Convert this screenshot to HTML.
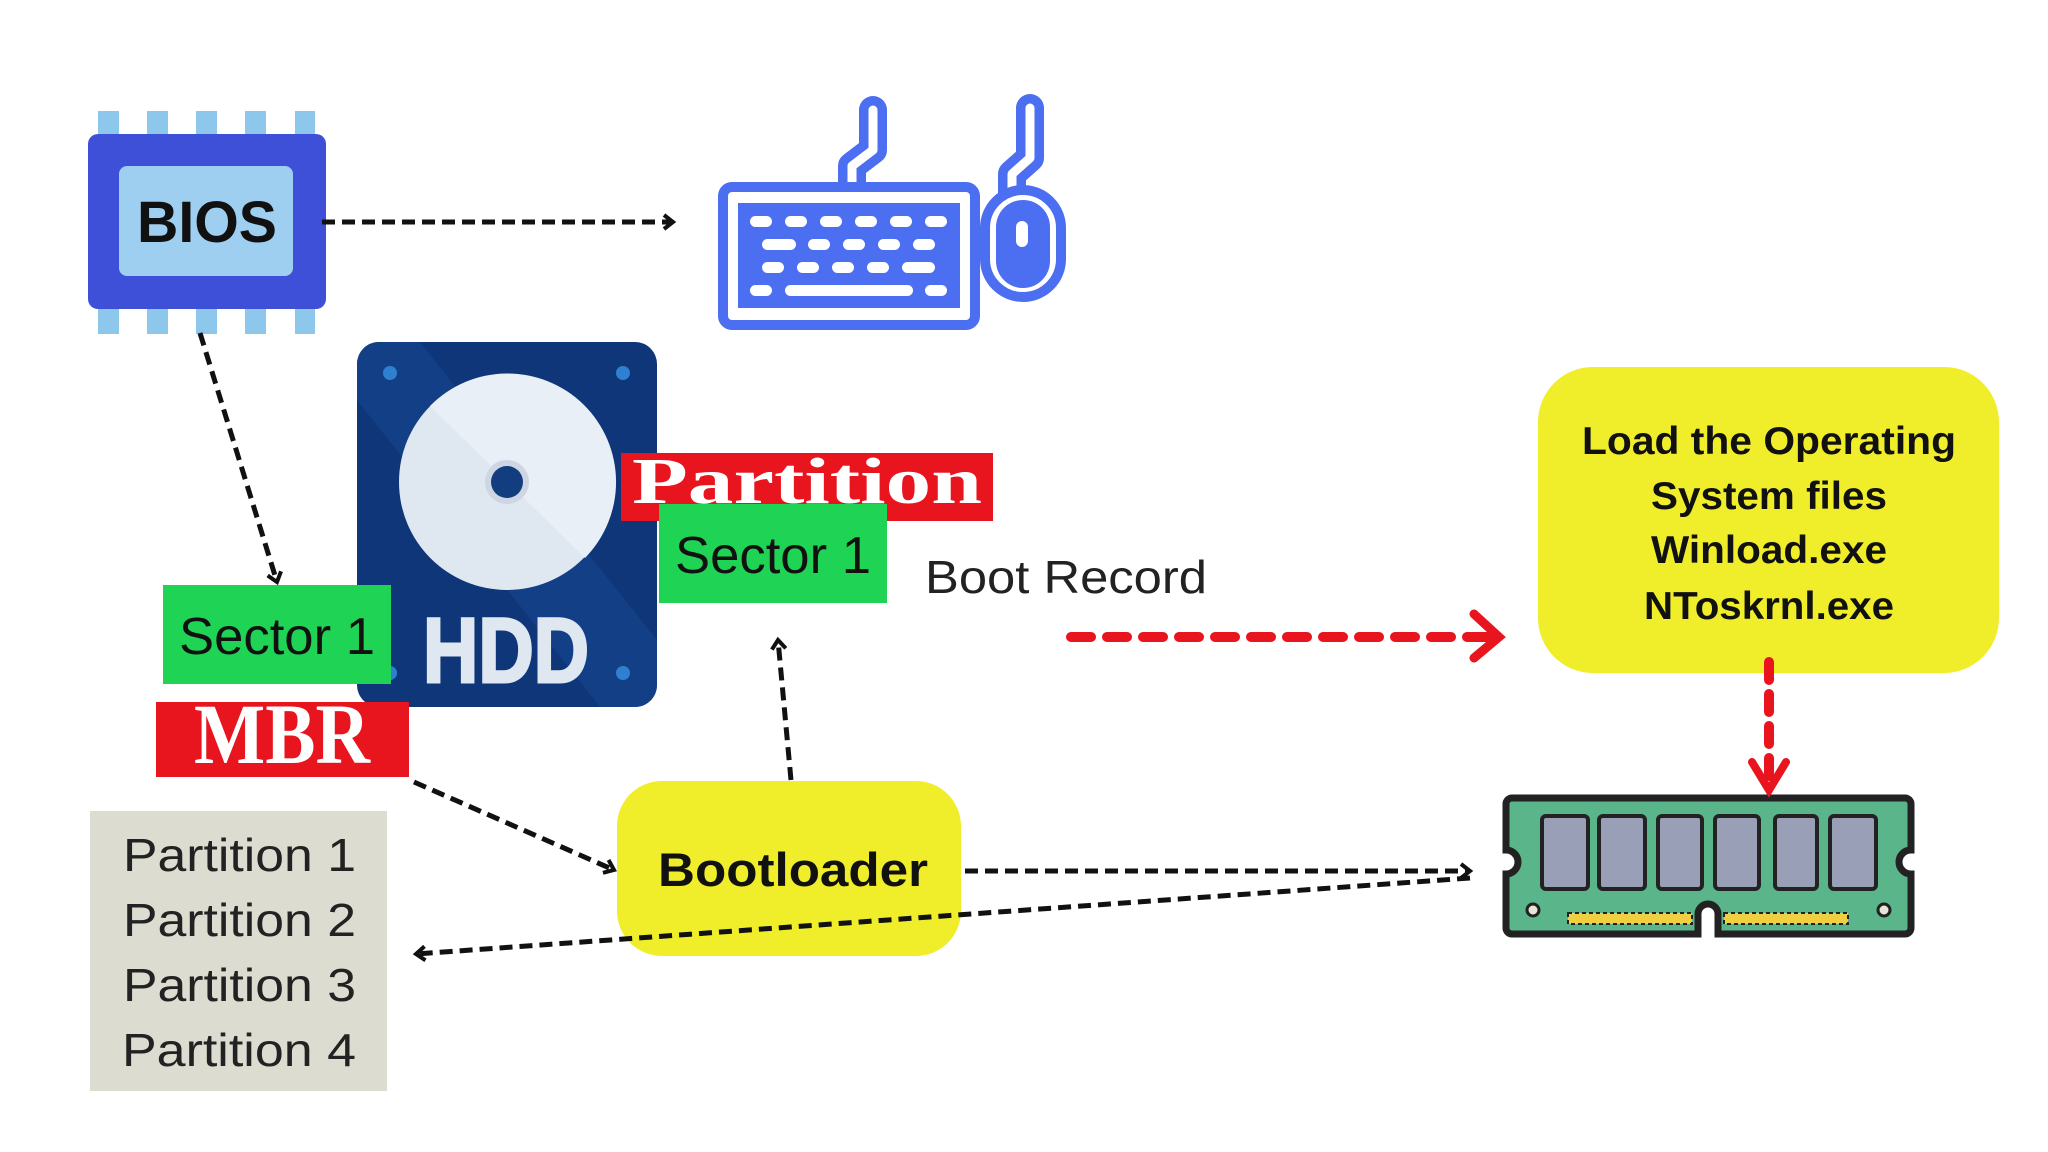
<!DOCTYPE html>
<html><head><meta charset="utf-8"><style>
html,body{margin:0;padding:0;background:#fff}
svg{display:block}
text{font-family:"Liberation Sans",sans-serif}
</style></head><body>
<svg width="2048" height="1152" viewBox="0 0 2048 1152" xmlns="http://www.w3.org/2000/svg">
<defs>
<marker id="ah" markerWidth="18" markerHeight="18" refX="12" refY="9" orient="auto" markerUnits="userSpaceOnUse">
<path d="M3 2 L12 9 L3 16" fill="none" stroke="#111" stroke-width="4"/></marker>
<clipPath id="hc"><rect x="357" y="342" width="300" height="365" rx="22"/></clipPath>
</defs>
<rect width="2048" height="1152" fill="#fff"/>

<!-- BIOS chip -->
<g fill="#8ec7ec">
<rect x="98" y="111" width="21" height="223"/><rect x="147" y="111" width="21" height="223"/>
<rect x="196" y="111" width="21" height="223"/><rect x="245" y="111" width="21" height="223"/>
<rect x="295" y="111" width="20" height="223"/>
</g>
<rect x="88" y="134" width="238" height="175" rx="10" fill="#3e50d8"/>
<rect x="119" y="166" width="174" height="110" rx="8" fill="#9fcff0"/>
<text x="207" y="242" font-size="58" font-weight="bold" text-anchor="middle" fill="#111" textLength="140" lengthAdjust="spacingAndGlyphs">BIOS</text>

<!-- keyboard -->
<g stroke="#4c6ef0" stroke-linecap="round" stroke-linejoin="round" fill="none">
<path d="M873 110 L873 150 L852 166 L852 192" stroke-width="28"/>
<path d="M1030 108 L1030 158 L1012 174 L1012 196" stroke-width="28"/>
</g>
<g stroke="#fff" stroke-linecap="round" stroke-linejoin="round" fill="none">
<path d="M873 110 L873 150 L852 166 L852 196" stroke-width="9"/>
<path d="M1030 108 L1030 158 L1012 174 L1012 200" stroke-width="9"/>
</g>
<rect x="723" y="187" width="252" height="138" rx="9" fill="#fff" stroke="#4c6ef0" stroke-width="10"/>
<rect x="738" y="203" width="222" height="105" fill="#4c6ef0"/>
<rect x="985" y="190" width="76" height="107" rx="38" fill="#fff" stroke="#4c6ef0" stroke-width="10"/>
<rect x="996" y="200" width="54" height="88" rx="27" fill="#4c6ef0"/>
<rect x="1016" y="221" width="12" height="26" rx="6" fill="#fff"/>
<g fill="#fff">
<rect x="750" y="216" width="22" height="11" rx="5.5"/><rect x="785" y="216" width="22" height="11" rx="5.5"/>
<rect x="820" y="216" width="22" height="11" rx="5.5"/><rect x="855" y="216" width="22" height="11" rx="5.5"/>
<rect x="890" y="216" width="22" height="11" rx="5.5"/><rect x="925" y="216" width="22" height="11" rx="5.5"/>
<rect x="762" y="239" width="34" height="11" rx="5.5"/><rect x="808" y="239" width="22" height="11" rx="5.5"/>
<rect x="843" y="239" width="22" height="11" rx="5.5"/><rect x="878" y="239" width="22" height="11" rx="5.5"/>
<rect x="913" y="239" width="22" height="11" rx="5.5"/>
<rect x="762" y="262" width="22" height="11" rx="5.5"/><rect x="797" y="262" width="22" height="11" rx="5.5"/>
<rect x="832" y="262" width="22" height="11" rx="5.5"/><rect x="867" y="262" width="22" height="11" rx="5.5"/>
<rect x="902" y="262" width="33" height="11" rx="5.5"/>
<rect x="750" y="285" width="22" height="11" rx="5.5"/><rect x="785" y="285" width="128" height="11" rx="5.5"/>
<rect x="925" y="285" width="22" height="11" rx="5.5"/>
</g>

<!-- HDD -->
<g clip-path="url(#hc)">
<rect x="357" y="342" width="300" height="365" fill="#0f3678"/>
<path d="M357 342 L420 342 L657 640 L657 707 L600 707 L357 400 Z" fill="#123f85"/>
</g>
<circle cx="390" cy="373" r="7" fill="#2f80d0"/><circle cx="623" cy="373" r="7" fill="#2f80d0"/>
<circle cx="390" cy="673" r="7" fill="#2f80d0"/><circle cx="623" cy="673" r="7" fill="#2f80d0"/>
<circle cx="507" cy="482" r="108" fill="#dfe7f1"/>
<path d="M430 406 A108 108 0 0 1 585 558 Z" fill="#e9eff7"/>
<circle cx="507" cy="482" r="22" fill="#cdd6e2"/>
<circle cx="507" cy="482" r="16" fill="#123d7f"/>
<text x="506" y="682" font-size="92" font-weight="bold" text-anchor="middle" fill="#dfe7f1" stroke="#dfe7f1" stroke-width="3" textLength="166" lengthAdjust="spacingAndGlyphs">HDD</text>

<!-- Partition red + sector -->
<rect x="621" y="453" width="372" height="68" fill="#e8141e"/>
<text x="807" y="503" font-size="66" font-weight="bold" text-anchor="middle" fill="#fff" textLength="350" lengthAdjust="spacingAndGlyphs" style="font-family:'Liberation Serif',serif">Partition</text>
<rect x="659" y="504" width="228" height="99" fill="#1fd455"/>
<text x="773" y="573" font-size="52" text-anchor="middle" fill="#111" textLength="196" lengthAdjust="spacingAndGlyphs">Sector 1</text>
<text x="925" y="593" font-size="46" fill="#222" textLength="282" lengthAdjust="spacingAndGlyphs">Boot Record</text>

<!-- left sector + MBR -->
<rect x="163" y="585" width="228" height="99" fill="#1fd455"/>
<text x="277" y="654" font-size="52" text-anchor="middle" fill="#111" textLength="196" lengthAdjust="spacingAndGlyphs">Sector 1</text>
<rect x="156" y="702" width="253" height="75" fill="#e8141e"/>
<text x="282" y="763" font-size="86" font-weight="bold" text-anchor="middle" fill="#fff" textLength="176" lengthAdjust="spacingAndGlyphs" style="font-family:'Liberation Serif',serif">MBR</text>

<!-- Partitions box -->
<rect x="90" y="811" width="297" height="280" fill="#dcddd0"/>
<g font-size="46" fill="#222">
<text x="123" y="871" textLength="233" lengthAdjust="spacingAndGlyphs">Partition 1</text>
<text x="123" y="936" textLength="233" lengthAdjust="spacingAndGlyphs">Partition 2</text>
<text x="123" y="1001" textLength="233" lengthAdjust="spacingAndGlyphs">Partition 3</text>
<text x="122" y="1066" textLength="234" lengthAdjust="spacingAndGlyphs">Partition 4</text>
</g>

<!-- Bootloader -->
<rect x="617" y="781" width="344" height="175" rx="45" fill="#f0ee2a"/>
<text x="793" y="886" font-size="47" font-weight="bold" text-anchor="middle" fill="#111" textLength="270" lengthAdjust="spacingAndGlyphs">Bootloader</text>

<!-- OS box -->
<rect x="1538" y="367" width="461" height="306" rx="55" fill="#f0ee2a"/>
<g font-size="39" font-weight="bold" text-anchor="middle" fill="#111">
<text x="1769" y="454" textLength="374" lengthAdjust="spacingAndGlyphs">Load the Operating</text>
<text x="1769" y="509" textLength="236" lengthAdjust="spacingAndGlyphs">System files</text>
<text x="1769" y="563" textLength="236" lengthAdjust="spacingAndGlyphs">Winload.exe</text>
<text x="1769" y="619" textLength="250" lengthAdjust="spacingAndGlyphs">NToskrnl.exe</text>
</g>

<!-- RAM -->
<path d="M1512 798 H1905 a6 6 0 0 1 6 6 V850 a12 12 0 0 0 0 24 V928 a6 6 0 0 1 -6 6 H1718 V914 a10 10 0 0 0 -20 0 V934 H1512 a6 6 0 0 1 -6 -6 V874 a12 12 0 0 0 0 -24 V804 a6 6 0 0 1 6 -6 Z" fill="#5ab58a" stroke="#222" stroke-width="7"/>
<g fill="#9a9fb8" stroke="#222" stroke-width="4">
<rect x="1542" y="816" width="46" height="73" rx="4"/><rect x="1599" y="816" width="46" height="73" rx="4"/>
<rect x="1658" y="816" width="44" height="73" rx="4"/><rect x="1715" y="816" width="44" height="73" rx="4"/>
<rect x="1775" y="816" width="42" height="73" rx="4"/><rect x="1830" y="816" width="46" height="73" rx="4"/>
</g>
<circle cx="1533" cy="910" r="6" fill="#e8e4d8" stroke="#222" stroke-width="3"/>
<circle cx="1884" cy="910" r="6" fill="#e8e4d8" stroke="#222" stroke-width="3"/>
<rect x="1568" y="913" width="124" height="11" fill="#f0d040" stroke="#222" stroke-width="2" stroke-dasharray="4 3"/>
<rect x="1724" y="913" width="124" height="11" fill="#f0d040" stroke="#222" stroke-width="2" stroke-dasharray="4 3"/>

<!-- black dashed connectors -->
<g stroke="#111" stroke-width="5" fill="none" stroke-dasharray="13 7">
<path d="M322 222 L673 222" marker-end="url(#ah)"/>
<path d="M200 333 L277 582" marker-end="url(#ah)"/>
<path d="M414 782 L614 870" marker-end="url(#ah)"/>
<path d="M791 780 L778 640" marker-end="url(#ah)"/>
<path d="M965 871 L1470 871" marker-end="url(#ah)"/>
<path d="M1470 878 L416 954" marker-end="url(#ah)"/>
</g>

<!-- red connectors -->
<g stroke="#e8141e" stroke-width="10" stroke-linecap="round" fill="none">
<path d="M1071 637 L1492 637" stroke-dasharray="20 16"/>
<path d="M1474 614 L1499 637 L1474 658" stroke-width="9"/>
<path d="M1769 662 L1769 785" stroke-dasharray="18 14"/>
<path d="M1752 762 L1769 790 L1786 762" stroke-width="8"/>
</g>
</svg>
</body></html>
